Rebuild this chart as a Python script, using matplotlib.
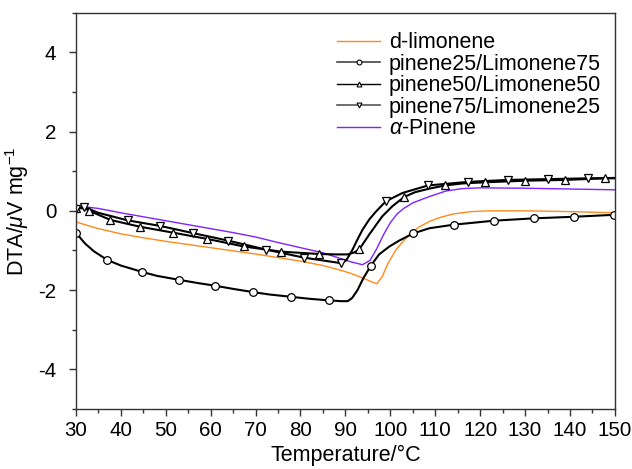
import matplotlib
matplotlib.use("Agg")
import matplotlib.pyplot as plt
from matplotlib.lines import Line2D
from matplotlib.ticker import MultipleLocator

plt.rcParams['font.family'] = ['Liberation Sans', 'DejaVu Sans']
plt.rcParams['axes.unicode_minus'] = False
plt.rcParams['mathtext.fontset'] = 'custom'
plt.rcParams['mathtext.it'] = 'Liberation Sans:italic'
plt.rcParams['mathtext.rm'] = 'Liberation Sans'

# d-limonene
lim_x = [30, 35, 40, 45, 50, 55, 60, 65, 70, 75, 80, 85, 88, 91, 94, 96, 97, 98.2, 99.5, 101.3,
         103, 104.6, 106.5, 108.7, 111, 114, 118, 122, 130, 140, 150]
lim_y = [-0.28, -0.45, -0.58, -0.68, -0.77, -0.85, -0.93, -1.01, -1.09, -1.18, -1.27, -1.38, -1.47,
         -1.57, -1.70, -1.80, -1.84, -1.66, -1.32, -0.98, -0.75, -0.56, -0.40, -0.27, -0.17, -0.08,
         -0.02, 0.0, 0.0, -0.02, -0.05]

# pinene25/Limonene75
p25_x = [30, 32, 34, 37, 40, 44.7, 48, 52.9, 57, 61, 65, 69.4, 73, 77.9, 82, 86.4, 89, 90.5, 91.5,
         92.7, 94, 95.7, 97.5, 99.8, 102, 105.1, 108.7, 114.1, 123, 131.9, 140.9, 150]
p25_y = [-0.55, -0.82, -1.02, -1.24, -1.38, -1.54, -1.64, -1.74, -1.82, -1.89, -1.97, -2.05, -2.11,
         -2.17, -2.22, -2.26, -2.28, -2.28, -2.2, -2.0, -1.7, -1.38, -1.1, -0.9, -0.75, -0.57, -0.44,
         -0.35, -0.25, -0.19, -0.15, -0.10]
p25_mx = [30, 37, 44.7, 52.9, 61, 69.4, 77.9, 86.4, 95.7, 105.1, 114.1, 123, 131.9, 140.9, 149.8]
p25_my = [-0.55, -1.24, -1.54, -1.74, -1.89, -2.05, -2.17, -2.26, -1.38, -0.57, -0.35, -0.25, -0.19, -0.15, -0.10]

# pinene50/Limonene50
p50_x = [30, 32, 34, 37.7, 44.2, 51.6, 59.3, 67.4, 75.7, 84.2, 88, 90.5, 92, 93.1, 95.3, 98.2, 100.5,
         103.1, 105.5, 108.7, 112.2, 116, 121.1, 130, 138.9, 147.8, 150]
p50_y = [0.07, 0.06, -0.05, -0.23, -0.40, -0.55, -0.71, -0.90, -1.03, -1.09, -1.10, -1.10, -1.05,
         -0.97, -0.60, -0.14, 0.12, 0.35, 0.47, 0.56, 0.64, 0.69, 0.72, 0.76, 0.78, 0.82, 0.82]
p50_mx = [30, 33, 37.7, 44.2, 51.6, 59.3, 67.4, 75.7, 84.2, 93.1, 103.1, 112.2, 121.1, 130, 138.9, 147.8]
p50_my = [0.07, 0.0, -0.23, -0.40, -0.55, -0.71, -0.90, -1.03, -1.09, -0.97, 0.35, 0.64, 0.72, 0.76, 0.78, 0.82]

# pinene75/Limonene25
p75_x = [30, 31.8, 35, 41.5, 48.7, 56, 63.8, 72.4, 80.7, 86, 89, 90.2, 91.5, 92.7, 93.8, 95.3, 96.8,
         99, 102.7, 108.4, 117.3, 126.2, 135.1, 144, 150]
p75_y = [0.05, 0.10, -0.05, -0.24, -0.38, -0.56, -0.75, -0.98, -1.18, -1.27, -1.32, -1.25, -1.0,
         -0.72, -0.48, -0.22, -0.02, 0.24, 0.45, 0.64, 0.73, 0.78, 0.80, 0.82, 0.83]
p75_mx = [30, 31.8, 41.5, 48.7, 56, 63.8, 72.4, 80.7, 89, 99, 108.4, 117.3, 126.2, 135.1, 144]
p75_my = [0.05, 0.10, -0.24, -0.38, -0.56, -0.75, -0.98, -1.18, -1.32, 0.24, 0.64, 0.73, 0.78, 0.80, 0.82]

# alpha-Pinene
ap_x = [30, 32, 35, 40, 45, 50, 55, 60, 65, 70, 75, 80, 85, 88, 91, 93.8, 95.5, 97, 98.5, 100,
        101.5, 103, 105, 108.7, 112.4, 116, 120, 130, 140, 150]
ap_y = [0.05, 0.1, 0.06, -0.05, -0.15, -0.25, -0.35, -0.45, -0.55, -0.66, -0.80, -0.93, -1.06, -1.17,
        -1.28, -1.36, -1.25, -0.95, -0.6, -0.3, -0.08, 0.06, 0.2, 0.36, 0.50, 0.56, 0.58, 0.57, 0.55, 0.53]

labels = ['d-limonene', 'pinene25/Limonene75', 'pinene50/Limonene50', 'pinene75/Limonene25',
          r'$\alpha$-Pinene']

ORANGE = '#ff8a1c'
PURPLE = '#7f22ff'
FS = 15.5
TFS = 14.8

fig = plt.figure(figsize=(6.32, 4.69), dpi=100)
ax = fig.add_axes([0.120, 0.128, 0.853, 0.845])

ax.plot(lim_x, lim_y, color=ORANGE, lw=1.0)
ax.plot(ap_x, ap_y, color=PURPLE, lw=1.0)
mk = dict(ls='none', mfc='white', mec='black', mew=0.9, ms=5.5)
ax.plot(p25_x, p25_y, color='black', lw=1.5)
ax.plot(p50_x, p50_y, color='black', lw=1.5)
ax.plot(p75_x, p75_y, color='black', lw=1.5)
ax.plot(p25_mx, p25_my, marker='o', **mk)
ax.plot(p50_mx, p50_my, marker='^', **mk)
ax.plot(p75_mx, p75_my, marker='v', **mk)

ax.set_xlim(30, 150)
ax.set_ylim(-5, 5)
ax.xaxis.set_major_locator(MultipleLocator(10))
ax.xaxis.set_minor_locator(MultipleLocator(5))
ax.yaxis.set_major_locator(MultipleLocator(2))
ax.yaxis.set_minor_locator(MultipleLocator(1))
ax.tick_params(which='both', direction='out', labelsize=TFS, width=1.0, color='#333333')
ax.tick_params(which='major', length=5)
ax.tick_params(which='minor', length=3)
ax.tick_params(axis='y', pad=9)
ax.tick_params(axis='x', pad=4)
for s in ax.spines.values():
    s.set_linewidth(1.0)
    s.set_color('#333333')

ax.set_xlabel('Temperature/°C', fontsize=FS, labelpad=3)
ax.set_ylabel(r'DTA/$\mu$V mg$^{-1}$', fontsize=FS, labelpad=5)

handles = [
    Line2D([], [], color=ORANGE, lw=1.0),
    Line2D([], [], color='#444444', lw=1.2, marker='o', ms=3.5, mfc='white', mec='black', mew=0.8),
    Line2D([], [], color='black', lw=1.0, marker='^', ms=3.5, mfc='white', mec='black', mew=0.8),
    Line2D([], [], color='#555555', lw=1.2, marker='v', ms=3.5, mfc='white', mec='black', mew=0.8),
    Line2D([], [], color=PURPLE, lw=1.0),
]
ax.legend(handles, labels, loc='upper left', bbox_to_anchor=(0.485, 0.95), frameon=False,
          fontsize=FS, handlelength=2.0, handletextpad=0.4, labelspacing=0.02,
          borderpad=0, borderaxespad=0)

fig.savefig('out.png', dpi=100)
